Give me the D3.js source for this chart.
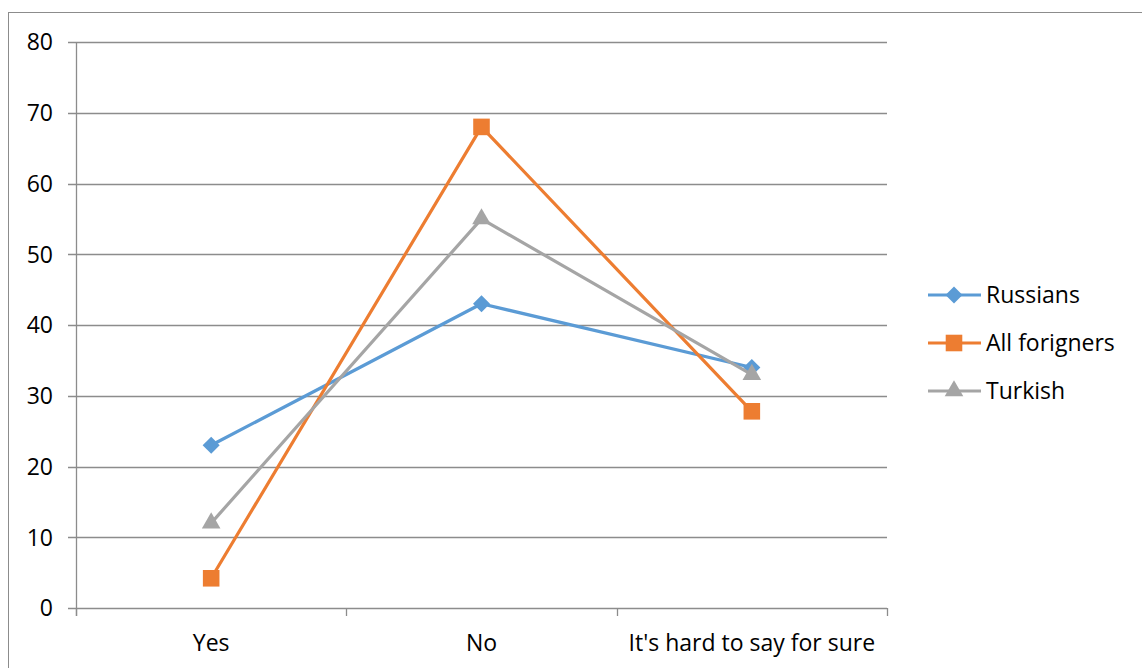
<!DOCTYPE html>
<html><head><meta charset="utf-8">
<script src="https://cdn.jsdelivr.net/npm/d3@7"></script>
<style>body{margin:0;background:#fff}svg{display:block}text{font-family:"Open Sans",Calibri,sans-serif;fill:#000}</style>
</head><body>
<svg id="c" width="1142" height="668"></svg>
<script>
const categories = ["Yes", "No", "It's hard to say for sure"];
const seriesNames = ["Russians", "All forigners", "Turkish"];
const russians = [23, 43, 34];
const allForeigners = [4.2, 68, 27.8];
const turkish = [12, 55, 33];
const yTicks = [0, 10, 20, 30, 40, 50, 60, 70, 80];
const colors = ["#5B9BD5", "#ED7D31", "#A5A5A5"];

const series = [russians, allForeigners, turkish];
const markerPath = [
  d3.symbol().type(d3.symbolSquare).size(145)(),
  d3.symbol().type(d3.symbolSquare).size(275)(),
  d3.symbol().type(d3.symbolTriangle).size(150)()
];
const markerRot = [45, 0, 0];

const svg = d3.select("#c");
svg.append("rect").attr("x", 8.5).attr("y", 12.5).attr("width", 1140).attr("height", 670)
  .attr("fill", "none").attr("stroke", "#8c8c8c").attr("stroke-width", 1);

const L = 76, R = 887, T = 42, B = 608;
const FS = 23;
const x = d3.scaleBand().domain(categories).range([L, R]);
const y = d3.scaleLinear().domain([0, 80]).range([B, T]);

svg.append("g").selectAll("line").data(yTicks).join("line")
  .attr("x1", L - 8).attr("x2", R).attr("y1", d => Math.round(y(d)) + 0.5).attr("y2", d => Math.round(y(d)) + 0.5)
  .attr("stroke", "#8c8c8c").attr("stroke-width", 1.3);
svg.append("line").attr("x1", L + 0.5).attr("x2", L + 0.5).attr("y1", T).attr("y2", B + 8)
  .attr("stroke", "#8c8c8c").attr("stroke-width", 1.3);
const bounds = categories.map(c => x(c)).concat([R]);
svg.append("g").selectAll("line").data(bounds).join("line")
  .attr("x1", d => Math.round(d) + 0.5).attr("x2", d => Math.round(d) + 0.5).attr("y1", B).attr("y2", B + 8)
  .attr("stroke", "#8c8c8c").attr("stroke-width", 1.3);
svg.append("g").selectAll("text").data(yTicks).join("text")
  .attr("x", 53).attr("y", d => y(d)).attr("dy", "0.36em").attr("text-anchor", "end")
  .attr("font-size", FS).text(d => d);
svg.append("g").selectAll("text").data(categories).join("text")
  .attr("x", d => x(d) + x.bandwidth() / 2).attr("y", 643).attr("dy", "0.36em").attr("text-anchor", "middle")
  .attr("font-size", FS).text(d => d);

const line = d3.line().x((d, i) => x(categories[i]) + x.bandwidth() / 2).y(d => y(d));
series.forEach((s, k) => {
  svg.append("path").datum(s).attr("d", line).attr("fill", "none")
    .attr("stroke", colors[k]).attr("stroke-width", 3.2).attr("stroke-linejoin", "round");
  svg.append("g").selectAll("path").data(s).join("path")
    .attr("d", markerPath[k])
    .attr("transform", (d, i) => `translate(${x(categories[i]) + x.bandwidth() / 2},${y(d)}) rotate(${markerRot[k]})`)
    .attr("fill", colors[k]);
});

const lg = svg.append("g");
seriesNames.forEach((n, k) => {
  const ly = 295 + k * 48;
  lg.append("line").attr("x1", 928).attr("x2", 981).attr("y1", ly).attr("y2", ly)
    .attr("stroke", colors[k]).attr("stroke-width", 3.2);
  lg.append("path").attr("d", markerPath[k])
    .attr("transform", `translate(954,${ly}) rotate(${markerRot[k]})`).attr("fill", colors[k]);
  lg.append("text").attr("x", 986).attr("y", ly).attr("dy", "0.36em").attr("font-size", FS).text(n);
});
</script>
</body></html>
